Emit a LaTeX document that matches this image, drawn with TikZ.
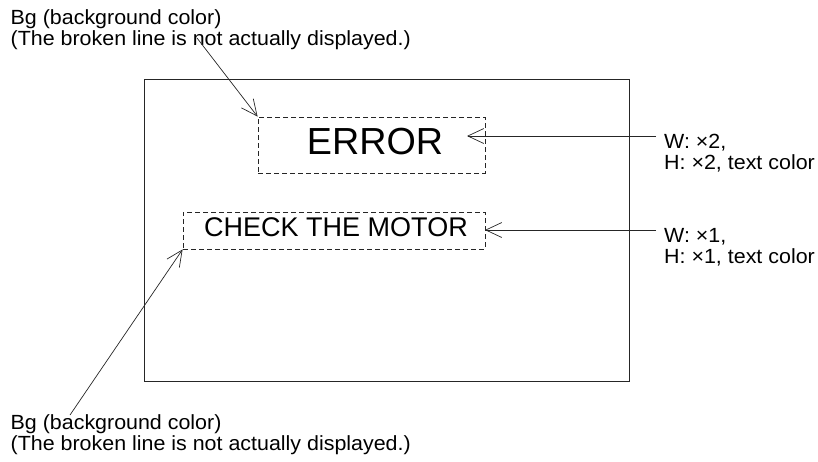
\documentclass[tikz,border=0pt]{standalone}
\usepackage{fontspec}
\setmainfont{Liberation Sans}
\newfontfamily\widesans{Liberation Sans}[FakeStretch=1.045]
\usetikzlibrary{arrows.meta}
\begin{document}
\begin{tikzpicture}[x=1pt,y=-1pt,
  lbl/.style={inner sep=0pt, anchor=north west, align=left, font=\widesans\fontsize{20.5}{21}\selectfont},
  frm/.style={draw=black!85, line width=0.9pt, inner sep=0pt, anchor=north west},
  bgbox/.style={draw=black!85, dash pattern=on 5pt off 3pt, line width=0.8pt, inner sep=0pt},
  ptr/.style={draw=black!85, line width=0.7pt, -{Straight Barb[length=16pt,width=15pt,line width=0.7pt]}}]
\useasboundingbox (0,0) rectangle (818,461);
% screen frame
\node[frm, minimum width=485pt, minimum height=302pt] (screen) at (144,79) {};
% background boxes
\node[bgbox, minimum width=227pt, minimum height=56pt] (errbox) at (371.5,145) {};
\node[bgbox, minimum width=302pt, minimum height=37pt] (chkbox) at (334,230.5) {};
% texts
\node[inner sep=0pt, font=\fontsize{37.7}{40}\selectfont] (errtxt) at (375,142) {ERROR};
\node[inner sep=0pt, font=\fontsize{27}{29}\selectfont] (chktxt) at (336,227.5) {CHECK THE MOTOR};
% labels
\node[lbl] (toplbl) at (10.5,9) {Bg (background color)\\(The broken line is not actually displayed.)};
\node[lbl] (botlbl) at (10.5,414) {Bg (background color)\\(The broken line is not actually displayed.)};
\node[lbl] (errlbl) at (664,134) {W: ×2,\\H: ×2, text color};
\node[lbl] (chklbl) at (664,228.5) {W: ×1,\\H: ×1, text color};
% connector endpoints
\coordinate (topstart) at (197,38);
\coordinate (botstart) at (70,415);
\coordinate (errstart) at (656,136);
\coordinate (errtip) at (467,136);
\coordinate (chkstart) at (656,230);
\coordinate (chktip) at (485,230);
% connectors
\draw[ptr] (topstart) -- (errbox.north west);
\draw[ptr] (botstart) -- (chkbox.south west);
\draw[ptr] (errstart) -- (errtip);
\draw[ptr] (chkstart) -- (chktip);
\end{tikzpicture}
\end{document}
